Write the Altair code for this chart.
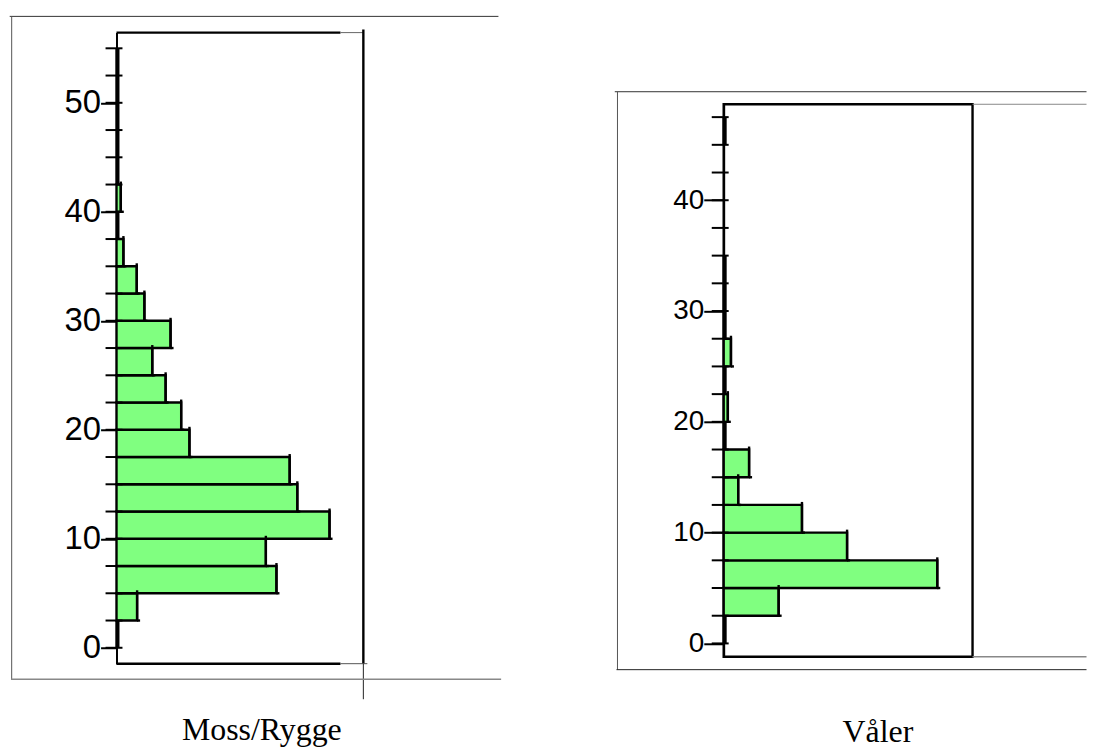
import altair as alt
import pandas as pd

BIN = 2.5
moss_lo = [0, 2.5, 5, 7.5, 10, 12.5, 15, 17.5, 20, 22.5, 25, 27.5, 30, 32.5,
           35, 37.5, 40, 42.5, 45, 47.5, 50, 52.5]
moss_pct = [0, 1.67, 12.96, 12.10, 17.26, 14.65, 14.03, 5.91, 5.24, 3.98, 2.90,
            4.38, 2.26, 1.64, 0.56, 0, 0.35, 0, 0, 0, 0, 0]
moss_ticks = [i * 2.5 for i in range(23)]          # 0 .. 55
moss_labels = [0, 10, 20, 30, 40, 50]

valer_lo = [0, 2.5, 5, 7.5, 10, 12.5, 15, 17.5, 20, 22.5, 25, 27.5, 30, 32.5, 45]
valer_pct = [0, 10.6, 41.2, 23.8, 15.1, 2.8, 4.9, 0, 0.8, 0, 1.4, 0, 0, 0, 0]
valer_ticks = [i * 2.5 for i in range(20)]         # 0 .. 47.5
valer_labels = [0, 10, 20, 30, 40]

GREEN = "#80FF80"
one = pd.DataFrame({"k": [0]})


def rule(x1, x2, y1, y2, color="#444444", width=1.0, opacity=1.0):
    return alt.Chart(one).mark_rule(color=color, strokeWidth=width,
                                    strokeOpacity=opacity).encode(
        x=alt.value(x1), x2=alt.value(x2), y=alt.value(y1), y2=alt.value(y2))


def panel(lo, pct, ticks, labels, ydom, xdom, w, h, label_size, major_len,
          minor_l, minor_r, title, title_dx, title_offset, extras, view):
    df = pd.DataFrame({"lo": lo, "pct": pct})
    df["hi"] = df["lo"] + BIN
    df["base"] = 0.0
    tdf = pd.DataFrame({"t": ticks})
    yscale = alt.Scale(domain=ydom, nice=False, zero=False)
    xscale = alt.Scale(domain=xdom, nice=False)
    bars = alt.Chart(df).mark_rect(fill=GREEN, stroke="black", strokeWidth=2.4).encode(
        x=alt.X("base:Q", scale=xscale, axis=None),
        x2="pct:Q",
        y=alt.Y("lo:Q", scale=yscale,
                axis=alt.Axis(values=labels, title=None, grid=False,
                              tickSize=major_len, tickWidth=2, tickColor="black",
                              domainColor="black", domainWidth=2,
                              labelFont="Liberation Sans", labelFontSize=label_size,
                              labelColor="black", labelPadding=0)),
        y2="hi:Q",
    )
    # the drawn bars' right edges overshoot a little at the top and bottom
    cap_v = alt.Chart(df).transform_filter("datum.pct > 0").mark_rule(
        color="black", strokeWidth=2.4, y2Offset=-3).encode(
        x=alt.X("pct:Q", scale=xscale), y=alt.Y("lo:Q", scale=yscale), y2="hi:Q")
    cap_h = alt.Chart(df).transform_filter("datum.pct > 0").mark_rule(
        color="black", strokeWidth=2.4, x2Offset=3).encode(
        x=alt.X("pct:Q", scale=xscale), x2="pct:Q", y=alt.Y("lo:Q", scale=yscale))
    # empty classes leave a thick stroke along the axis
    empty = alt.Chart(df).transform_filter("datum.pct == 0").mark_rule(
        color="black", strokeWidth=3).encode(
        x=alt.value(1.5), y=alt.Y("lo:Q", scale=yscale), y2="hi:Q")
    tick_rules = alt.Chart(tdf).mark_rule(color="black", strokeWidth=2).encode(
        y=alt.Y("t:Q", scale=yscale), x=alt.value(minor_l), x2=alt.value(minor_r))
    layers = [bars, cap_v, cap_h, empty, tick_rules] + extras
    return alt.layer(*layers).properties(
        width=w, height=h, view=view,
        title=alt.TitleParams(title, orient="bottom", anchor="middle", frame="group",
                              font="Liberation Serif", fontSize=32, fontWeight="normal",
                              color="black", baseline="alphabetic",
                              offset=title_offset, dx=title_dx))


# left panel: plot 248 x 634, frame drawn by hand
LW, LH = 248, 634
left_extras = [
    rule(0, 225, 0, 0, "black", 2.4),                     # frame top (thick part)
    rule(225, LW, 0, 0, "#666666", 1),                    # frame top (thin part)
    rule(LW, LW, -3, LH, "black", 2.4),                   # frame right
    rule(0, 225, LH, LH, "black", 2.4),                   # frame bottom (thick part)
    rule(225, LW + 4, LH, LH, "#555555", 1),              # frame bottom (thin part)
    rule(LW, LW, LH, 669.7, "#222222", 1),                # vertical below frame
    rule(-107.3, 383.7, -16.3, -16.3, "#333333", 1),      # outer top
    rule(-105.3, -105.3, -16.3, 649.7, "#555555", 1),     # outer left
    rule(-106, 386.4, 649.7, 649.7, "#888888", 1.5),      # outer bottom
]
left = panel(moss_lo, moss_pct, moss_ticks, moss_labels, [-1.46, 56.44], [0, 20],
             LW, LH, 33, 16, -11, 6, "Moss/Rygge", 22, 40, left_extras,
             alt.ViewBackground(stroke="transparent"))

# right panel: plot 250 x 555
RW, RH = 250, 555
REND = 364.5
right_extras = [
    rule(-109.4, REND, -12.6, -12.6, "#333333", 1),       # outer top
    rule(-106.7, -106.7, -12.6, 568, "#555555", 1),       # outer left
    rule(-107.7, REND, 568, 568, "#222222", 1),           # outer bottom
    rule(RW, REND, 0, 0, "#888888", 1),                   # frame extension top
    rule(RW, REND, RH, RH, "#888888", 1.5),               # frame extension bottom
]
right = panel(valer_lo, valer_pct, valer_ticks, valer_labels, [-1.2, 48.66], [0, 48],
              RW, RH, 28, 20, -12, 5, "Våler", 30, 72, right_extras,
              alt.ViewBackground(stroke="black", strokeWidth=2.4))

spacer = alt.Chart(one).mark_rule(strokeOpacity=0).encode(
    x=alt.value(1), y=alt.value(5), y2=alt.value(10)
).properties(width=RW, height=56.4, view=alt.ViewBackground(stroke="transparent"))

right_col = alt.vconcat(spacer, right, spacing=0)

chart = alt.hconcat(left, right_col, spacing=110).properties(
    padding={"left": 0, "top": 5, "right": 0, "bottom": 0}
).configure_view(stroke="transparent")

chart.save("out.html", embed_options={"renderer": "svg", "actions": False})
